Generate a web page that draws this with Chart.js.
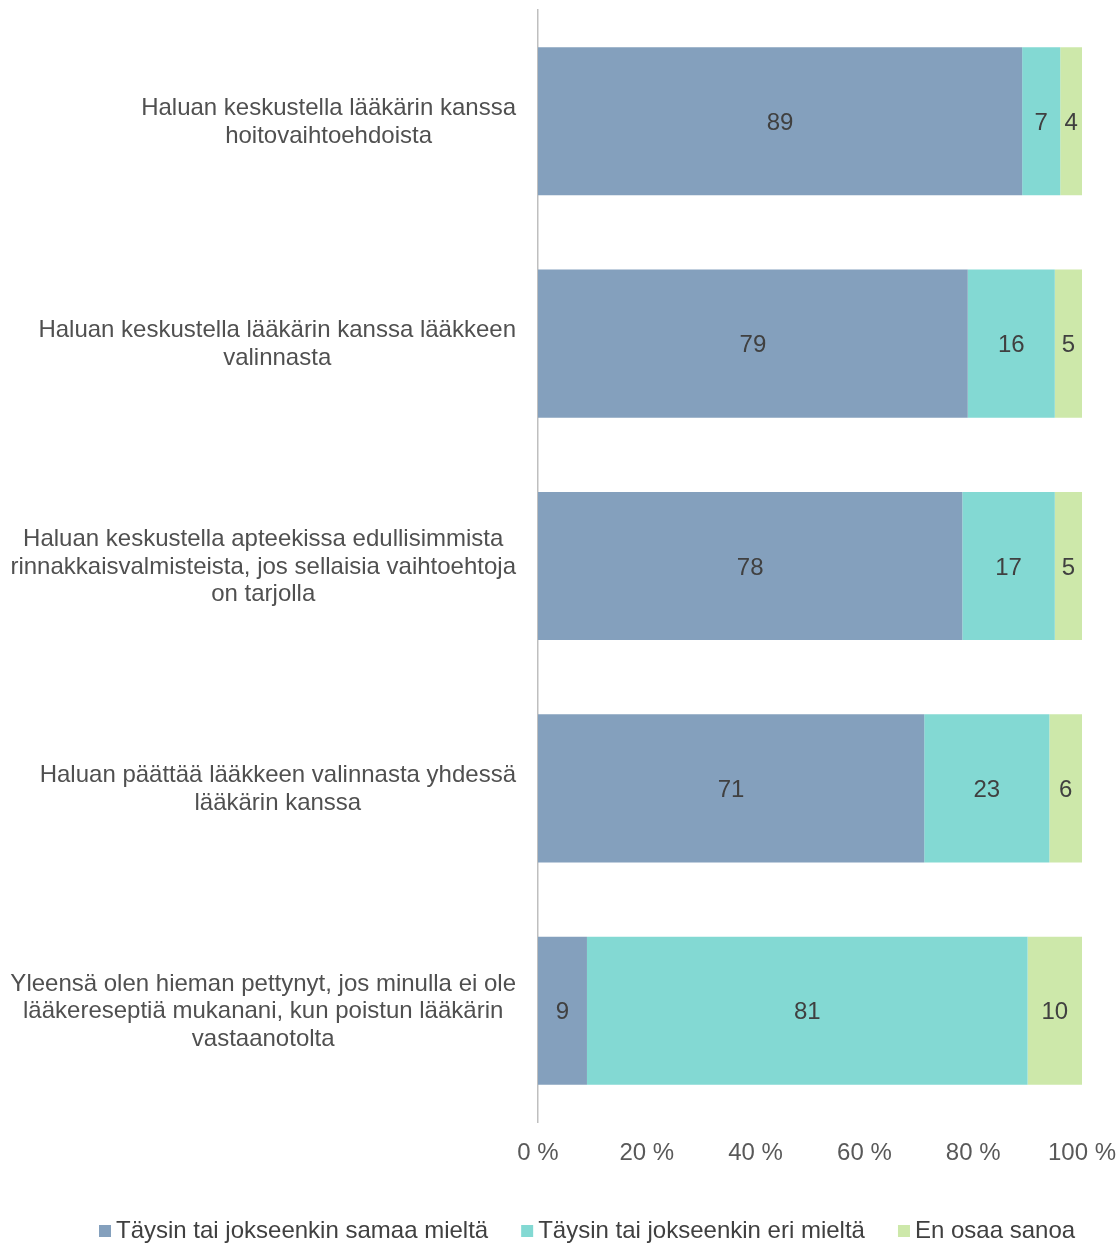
<html>
<head>
  <meta charset="utf-8">
  <script src="https://cdn.jsdelivr.net/npm/chart.js@4.4.1/dist/chart.umd.min.js"></script>
  <style>
    html, body { margin:0; padding:0; background:#fff; }
    #wrap { width:1120px; height:1243px; }
  </style>
</head>
<body>
  <div id="wrap"><canvas id="bar-chart"></canvas></div>

  <script>
  // categories (each one already split into its lines)
  var categories = [
    ["Haluan keskustella lääkärin kanssa", "hoitovaihtoehdoista"],
    ["Haluan keskustella lääkärin kanssa lääkkeen", "valinnasta"],
    ["Haluan keskustella apteekissa edullisimmista", "rinnakkaisvalmisteista, jos sellaisia vaihtoehtoja", "on tarjolla"],
    ["Haluan päättää lääkkeen valinnasta yhdessä", "lääkärin kanssa"],
    ["Yleensä olen hieman pettynyt, jos minulla ei ole", "lääkereseptiä mukanani, kun poistun lääkärin", "vastaanotolta"]
  ];
  var seriesNames = ["Täysin tai jokseenkin samaa mieltä", "Täysin tai jokseenkin eri mieltä", "En osaa sanoa"];
  var samaa = [89, 79, 78, 71, 9];
  var eri = [7, 16, 17, 23, 81];
  var enOsaa = [4, 5, 5, 6, 10];
  var xTicks = [0, 20, 40, 60, 80, 100];

  var colors = ["#84A0BD", "#83D9D3", "#CDE8AA"];
  var FONT = "'Liberation Sans', Arial, sans-serif";

  // category labels: each block right aligned, lines centered inside the block
  var catLabels = {
    id: 'catLabels',
    afterDraw: function(chart) {
      var ctx = chart.ctx;
      var y = chart.scales.y;
      ctx.save();
      ctx.font = "24px " + FONT;
      ctx.fillStyle = "#505050";
      ctx.textAlign = "center";
      ctx.textBaseline = "middle";
      var right = 516, lh = 27.5;
      categories.forEach(function(lines, i) {
        var w = 0;
        lines.forEach(function(l){ w = Math.max(w, ctx.measureText(l).width); });
        var cx = right - w / 2;
        var cy = y.getPixelForValue(i) - (lines.length - 1) * lh / 2 + 1;
        lines.forEach(function(l, k){ ctx.fillText(l, cx, cy + k * lh); });
      });
      ctx.restore();
    }
  };

  // values inside the bar segments
  var valueLabels = {
    id: 'valueLabels',
    afterDatasetsDraw: function(chart) {
      var ctx = chart.ctx;
      ctx.save();
      ctx.font = "24px " + FONT;
      ctx.fillStyle = "#404040";
      ctx.textAlign = "center";
      ctx.textBaseline = "middle";
      chart.data.datasets.forEach(function(ds, di) {
        var meta = chart.getDatasetMeta(di);
        meta.data.forEach(function(bar, i) {
          var p = bar.getProps(['x', 'base', 'y'], true);
          ctx.fillText(ds.data[i], (p.x + p.base) / 2, p.y + 2);
        });
      });
      ctx.restore();
    }
  };

  // legend along the bottom
  var bottomLegend = {
    id: 'bottomLegend',
    afterDraw: function(chart) {
      var ctx = chart.ctx;
      ctx.save();
      ctx.font = "24px " + FONT;
      ctx.textBaseline = "middle";
      ctx.textAlign = "left";
      var x = 99, cy = 1231;
      seriesNames.forEach(function(n, i) {
        ctx.fillStyle = colors[i];
        ctx.fillRect(x, cy - 6, 12, 12);
        ctx.fillStyle = "#404040";
        ctx.fillText(n, x + 17, cy);
        x += 17 + ctx.measureText(n).width + 33;
      });
      ctx.restore();
    }
  };

  new Chart(document.getElementById("bar-chart"), {
    type: 'bar',
    data: {
      labels: categories.map(function(c){ return c.join(" "); }),
      datasets: [
        { label: seriesNames[0], data: samaa, backgroundColor: colors[0] },
        { label: seriesNames[1], data: eri, backgroundColor: colors[1] },
        { label: seriesNames[2], data: enOsaa, backgroundColor: colors[2] }
      ]
    },
    options: {
      indexAxis: 'y',
      responsive: true,
      maintainAspectRatio: false,
      animation: false,
      layout: { padding: { top: 10, right: 38, left: 0, bottom: 0 } },
      datasets: { bar: { categoryPercentage: 1, barPercentage: 0.666 } },
      plugins: {
        legend: { display: false },
        tooltip: { enabled: false }
      },
      scales: {
        x: {
          stacked: true,
          min: 0, max: 100,
          afterBuildTicks: function(s){ s.ticks = xTicks.map(function(v){ return { value: v }; }); },
          afterFit: function(s){ s.height = 121; s.paddingLeft = 0; s.paddingRight = 0; },
          grid: { display: false, drawTicks: false },
          border: { display: false },
          ticks: {
            padding: 17,
            color: "#595959",
            font: { family: FONT, size: 24 },
            maxRotation: 0,
            callback: function(v){ return v + " %"; }
          }
        },
        y: {
          stacked: true,
          afterFit: function(s){ s.width = 538; },
          grid: { display: false, drawTicks: false },
          border: { display: true, color: "#BFBFBF", width: 1.5 },
          ticks: { display: false }
        }
      }
    },
    plugins: [catLabels, valueLabels, bottomLegend]
  });
  </script>
</body>
</html>
